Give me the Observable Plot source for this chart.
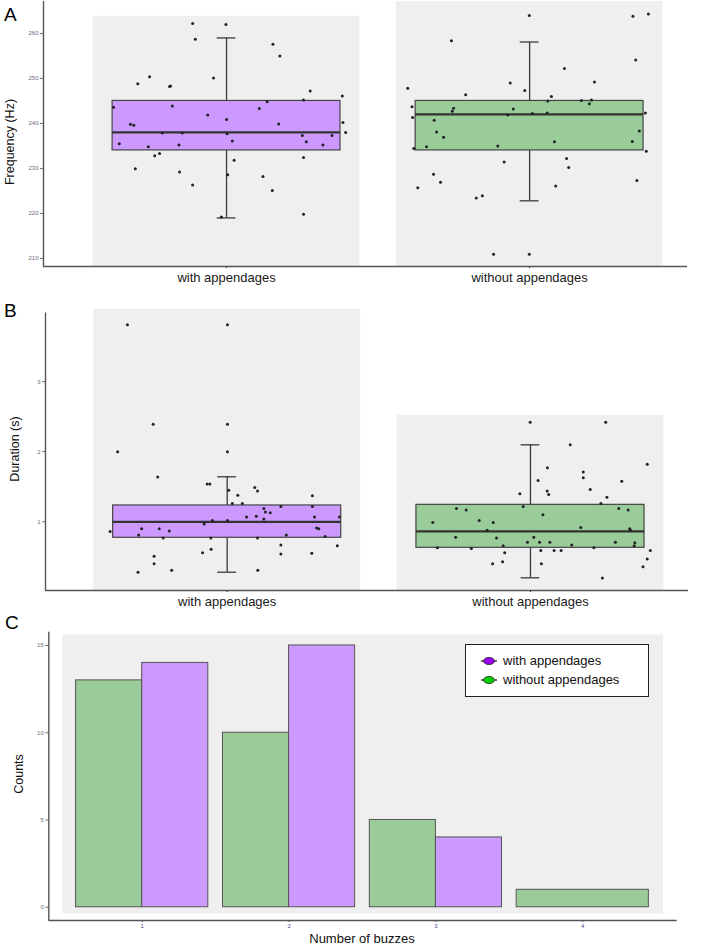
<!DOCTYPE html>
<html><head><meta charset="utf-8">
<script src="https://cdn.jsdelivr.net/npm/d3@7"></script>
<script src="https://cdn.jsdelivr.net/npm/@observablehq/plot@0.6"></script>
<style>
body{margin:0;background:#fff;font-family:"Liberation Sans",Arial,sans-serif;}
#wrap{position:relative;width:709px;height:945px;overflow:hidden;background:#fff}
.panel{position:absolute;left:0}
.t{position:absolute;color:#111;white-space:nowrap;font-family:"Liberation Sans",Arial,sans-serif}
.rot{transform:translate(-50%,-50%) rotate(-90deg);font-size:12.5px}
.letter{font-size:19px;line-height:19px;color:#000}
#legend{position:absolute;left:465px;top:644px;width:182px;height:51px;border:1.5px solid #222;background:#fff}
.lg{position:absolute;left:12px;font-size:13px;line-height:14px;color:#111;display:flex;align-items:center}
.lg svg{margin-right:3px}
</style></head><body><div id="wrap"></div>
<script>
// ---------- data ----------
const groups = ["with appendages", "without appendages"];
const groupFill = ["#cc99ff", "#99cc99"];
const groupKey = ["#9900ee", "#00cc00"];

// Panel A: frequency (Hz)
const freqTicks = [210, 220, 230, 240, 250, 260];
const freqQ1 = [234, 234];
const freqMedian = [238, 242];
const freqQ3 = [245, 245];
const freqLow = [219, 222.8];
const freqHigh = [259, 258.1];
const freqBgTop = [263.8, 267.1];
const freqWithVals = [262.2,262.0,258.7,257.6,255.0,250.4,250.1,248.8,248.2,248.3,247.2,246.1,245.2,244.8,243.6,243.9,243.3,241.9,240.9,239.8,239.6,239.9,240.2,238.0,237.9,237.9,237.7,237.3,237.3,235.5,235.2,234.8,236.1,235.9,235.2,232.8,233.3,232.4,229.9,231.8,229.2,228.6,228.2,226.3,225.1,219.2,219.8];
const freqWithJit = [-0.112,-0.002,-0.103,0.153,0.176,-0.254,-0.043,-0.293,-0.188,-0.185,0.276,0.382,0.254,0.134,-0.373,-0.179,0.108,-0.062,0,-0.317,-0.306,0.172,0.384,0.393,-0.212,-0.146,0.002,0.250,0.348,-0.354,-0.157,-0.258,0.019,0.263,0.318,-0.237,-0.221,0.254,-0.301,0.025,-0.155,0.004,0.120,-0.112,0.151,-0.017,0.254];
const freqWithoutVals = [264.0,263.8,264.3,258.4,254.1,252.2,249.0,249.2,247.8,247.3,246.4,246.0,245.0,245.1,245.2,244.4,243.7,243.4,242.7,243.2,241.3,241.9,242.2,242.3,242.3,240.7,238.3,238.1,236.9,236.0,235.9,234.4,234.8,235.0,233.8,232.2,231.4,230.2,228.7,226.9,227.3,225.7,226.1,223.4,223.9,210.9,210.9];
const freqWithoutJit = [-0.001,0.341,0.392,-0.258,0.350,0.115,-0.064,0.214,-0.402,-0.016,-0.211,0.072,0.060,0.171,0.204,0.197,-0.388,-0.251,-0.255,-0.054,-0.386,-0.072,0.009,0.058,0.382,-0.315,0.362,-0.307,-0.284,0.339,0.082,-0.382,-0.340,-0.105,0.385,0.122,-0.084,0.129,-0.317,-0.294,0.354,-0.369,0.086,-0.176,-0.156,-0.119,-0.001];

// Panel B: duration (s)
const durTicks = [1, 2, 3];
const durQ1 = [0.772, 0.629];
const durMedian = [1.0, 0.862];
const durQ3 = [1.233, 1.242];
const durLow = [0.281, 0.201];
const durHigh = [1.642, 2.098];
const durBgTop = [4.03, 2.52];
const durWithVals = [3.81,3.81,2.39,2.39,2.00,2.00,1.64,1.54,1.54,1.45,1.49,1.44,1.38,1.37,1.26,1.26,1.22,1.22,1.19,1.14,1.13,1.07,1.08,1.04,1.07,1.07,1.02,1.02,0.97,0.86,0.90,0.90,0.87,0.81,0.77,0.77,0.77,0.81,0.91,0.90,0.79,0.67,0.66,0.61,0.56,0.51,0.54,0.55,0.40,0.28,0.31,0.31];
const durWithJit = [-0.329,0.001,-0.244,0.001,-0.361,0.001,-0.229,-0.066,-0.057,0.005,0.091,0.100,0.035,0.281,0.017,0.050,0.177,0.281,0.121,0.126,0.142,0.064,0.096,0.121,0.288,0.370,-0.049,0.001,-0.076,-0.386,-0.282,-0.224,-0.191,-0.292,-0.211,-0.054,0.100,0.195,0.295,0.302,0.323,0.177,0.363,-0.053,-0.081,-0.241,0.177,0.279,-0.241,-0.294,-0.183,0.101];
const durWithoutVals = [2.42,2.42,2.10,1.82,1.77,1.71,1.63,1.59,1.58,1.46,1.44,1.39,1.40,1.35,1.26,1.22,1.19,1.17,1.19,1.17,1.10,1.02,0.99,0.99,0.92,0.90,0.88,0.88,0.78,0.77,0.78,0.71,0.71,0.71,0.71,0.70,0.63,0.62,0.66,0.67,0.63,0.66,0.59,0.59,0.59,0.59,0.56,0.47,0.40,0.43,0.40,0.36,0.20];
const durWithoutJit = [-0.001,0.248,0.131,0.385,0.056,0.174,0.174,0.025,0.301,0.197,0.055,0.060,-0.035,0.252,0.232,-0.024,-0.244,-0.212,0.291,0.322,0.041,-0.169,-0.123,-0.322,0.166,0.327,0.330,-0.143,-0.247,-0.112,0.011,-0.010,0.030,0.064,0.280,0.344,-0.307,-0.195,-0.090,0.136,0.209,0.342,0.034,0.078,0.101,0.395,-0.085,0.385,-0.125,-0.092,0.036,0.371,0.237];

// Panel C: counts
const buzzes = [1, 2, 3, 4];
const countsWith = [14, 15, 4, 0];
const countsWithout = [13, 10, 5, 1];
const countTicks = [0, 5, 10, 15];

// ---------- drawing ----------
const W = 709;
const FONT = '"Liberation Sans", Arial, sans-serif';
const wrap = document.getElementById("wrap");
const intFmt = d => String(d);

function place(node, top) {
  node.classList.add("panel");
  node.style.top = top + "px";
  wrap.appendChild(node);
}

function boxPanel(o) {
  const boxes = groups.map((g, i) => ({
    x: i + 1, q1: o.q1[i], med: o.med[i], q3: o.q3[i], lo: o.lo[i], hi: o.hi[i], top: o.bgTop[i], fill: groupFill[i]
  }));
  const pts = [];
  o.vals.forEach((vs, gi) => vs.forEach((v, j) => pts.push({x: gi + 1 + o.jits[gi][j], y: v})));
  return Plot.plot({
    width: W, height: o.height,
    marginLeft: o.ml, marginRight: o.mr, marginTop: o.mt, marginBottom: o.mb,
    x: {domain: o.xDomain},
    y: {domain: o.yDomain},
    style: {fontFamily: FONT, background: "transparent", overflow: "visible"},
    marks: [
      Plot.rect(boxes, {x1: d => d.x - 0.44, x2: d => d.x + 0.44, y1: o.yDomain[0], y2: "top", fill: "#efefef"}),
      Plot.ruleX(boxes, {x: "x", y1: "q3", y2: "hi", stroke: "#3a3a3a", strokeWidth: 1.3}),
      Plot.ruleX(boxes, {x: "x", y1: "lo", y2: "q1", stroke: "#3a3a3a", strokeWidth: 1.3}),
      Plot.ruleY(boxes, {y: "hi", x1: d => d.x - 0.031, x2: d => d.x + 0.031, stroke: "#3a3a3a", strokeWidth: 1.3}),
      Plot.ruleY(boxes, {y: "lo", x1: d => d.x - 0.031, x2: d => d.x + 0.031, stroke: "#3a3a3a", strokeWidth: 1.3}),
      Plot.rect(boxes, {x1: d => d.x - 0.376, x2: d => d.x + 0.376, y1: "q1", y2: "q3", fill: d => d.fill, stroke: "#444", strokeWidth: 1.2}),
      Plot.ruleY(boxes, {y: "med", x1: d => d.x - 0.376, x2: d => d.x + 0.376, stroke: "#333", strokeWidth: 2.2}),
      Plot.dot(pts, {x: "x", y: "y", r: 1.5, fill: "#222"}),
      Plot.axisY({ticks: o.yTicks, tickFormat: intFmt, tickSize: 3, tickPadding: 2, fontSize: 6, color: "#6a6a7a", label: null}),
      Plot.axisX({ticks: [1, 2], tickFormat: i => groups[i - 1], tickSize: 2, tickPadding: 4, fontSize: 13, color: "#1a1a1a", label: null}),
      Plot.ruleX([o.xDomain[0]], {stroke: "#555", strokeWidth: 1.4}),
      Plot.ruleY([o.yDomain[0]], {stroke: "#555", strokeWidth: 1.4})
    ]
  });
}

// Panel A
place(boxPanel({
  vals: [freqWithVals, freqWithoutVals], jits: [freqWithJit, freqWithoutJit],
  q1: freqQ1, med: freqMedian, q3: freqQ3, lo: freqLow, hi: freqHigh, bgTop: freqBgTop,
  yDomain: [208.2, 267.1], yTicks: freqTicks, xDomain: [0.396, 2.521],
  height: 290, ml: 43, mr: 22, mt: 1, mb: 24
}), 0);

// Panel B
place(boxPanel({
  vals: [durWithVals, durWithoutVals], jits: [durWithJit, durWithoutJit],
  q1: durQ1, med: durMedian, q3: durQ3, lo: durLow, hi: durHigh, bgTop: durBgTop,
  yDomain: [0.02, 3.98], yTicks: durTicks, xDomain: [0.401, 2.521],
  height: 320, ml: 45, mr: 21, mt: 12.4, mb: 30
}), 300);

// Panel C
const barW = 0.45;
const bars = [];
buzzes.forEach((b, i) => {
  const hasWith = countsWith[i] > 0;
  if (countsWithout[i] > 0) bars.push({x1: b - barW, x2: hasWith ? b : b + barW, y: countsWithout[i], fill: groupFill[1]});
  if (hasWith) bars.push({x1: countsWithout[i] > 0 ? b : b - barW, x2: b + barW, y: countsWith[i], fill: groupFill[0]});
});
const cX = [0.364, 4.643], cY = [-0.76, 15.76];
const cPanelX = [0.46, 4.55], cPanelY = [-0.38, 15.61];
place(Plot.plot({
  width: W, height: 325,
  marginLeft: 48.3, marginRight: 32.3, marginTop: 11.7, marginBottom: 25,
  x: {domain: cX}, y: {domain: cY},
  style: {fontFamily: FONT, background: "transparent", overflow: "visible"},
  marks: [
    Plot.rect([0], {x1: cPanelX[0], x2: cPanelX[1], y1: cPanelY[0], y2: cPanelY[1], fill: "#efefef"}),
    Plot.rect(bars, {x1: "x1", x2: "x2", y1: 0, y2: "y", fill: d => d.fill, stroke: "#555", strokeWidth: 1}),
    Plot.axisY({ticks: countTicks, tickFormat: intFmt, tickSize: 3, tickPadding: 2, fontSize: 6, color: "#6a6a7a", label: null}),
    Plot.axisX({ticks: buzzes, tickFormat: intFmt, tickSize: 2, tickPadding: 1, fontSize: 6, color: "#50508a", label: null}),
    Plot.ruleX([cX[0]], {stroke: "#555", strokeWidth: 1.4}),
    Plot.ruleY([cY[0]], {stroke: "#555", strokeWidth: 1.4})
  ]
}), 620);

// ---------- text overlays ----------
function addText(txt, cls, style) {
  const d = document.createElement("div");
  d.className = "t " + cls;
  d.textContent = txt;
  Object.assign(d.style, style);
  wrap.appendChild(d);
  return d;
}
addText("A", "letter", {left: "4px", top: "4.5px"});
addText("B", "letter", {left: "4px", top: "300.5px"});
addText("C", "letter", {left: "5px", top: "612.5px"});
addText("Frequency (Hz)", "rot", {left: "10px", top: "142px"});
addText("Duration (s)", "rot", {left: "14.7px", top: "448.5px"});
addText("Counts", "rot", {left: "19.3px", top: "774px"});
addText("Number of buzzes", "", {left: "362px", top: "938px", transform: "translate(-50%,-50%)", fontSize: "13px"});

// legend
const lg = document.createElement("div");
lg.id = "legend";
groups.forEach((g, i) => {
  const row = document.createElement("div");
  row.className = "lg";
  row.style.top = (i === 0 ? 8.5 : 27.5) + "px";
  row.innerHTML = `<svg width="22" height="12"><line x1="3" y1="6" x2="19" y2="6" stroke="#222" stroke-width="1.3"/><ellipse cx="11" cy="6" rx="5.5" ry="3.6" fill="${groupKey[i]}" stroke="#222" stroke-width="0.8"/></svg>`;
  const s = document.createElement("span");
  s.textContent = g;
  row.appendChild(s);
  lg.appendChild(row);
});
wrap.appendChild(lg);
</script></body></html>
